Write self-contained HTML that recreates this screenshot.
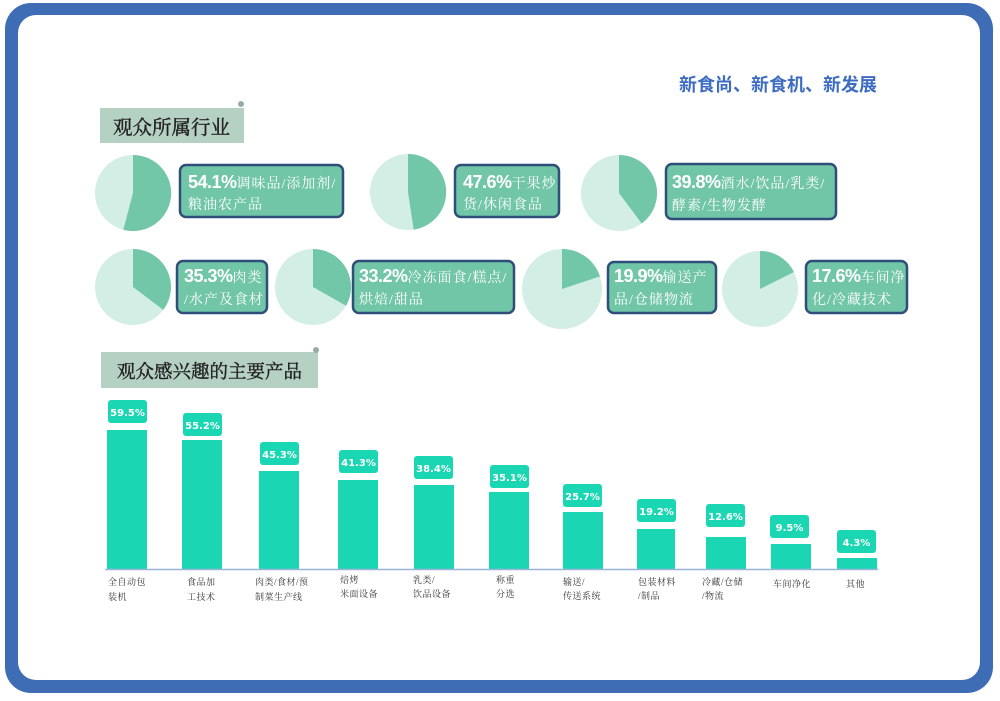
<!DOCTYPE html>
<html><head><meta charset="utf-8"><style>
body{margin:0;width:1000px;height:696px;background:#fff;overflow:hidden}
.s{font-family:"Liberation Serif","Noto Serif CJK SC",serif}
.b{font-family:"DejaVu Sans",sans-serif}
.p{font-family:"Liberation Sans",sans-serif;font-weight:bold;letter-spacing:-0.5px}
</style></head><body>
<svg width="1000" height="696" viewBox="0 0 1000 696" xmlns="http://www.w3.org/2000/svg">
<rect x="5" y="3" width="988" height="690" rx="26" fill="#3f6db5"/>
<rect x="18" y="15" width="962" height="665" rx="18" fill="#fff"/>
<text x="877" y="91" text-anchor="end" font-size="18" font-weight="bold" fill="#3d6cc0" style="font-family:'Liberation Sans','Noto Sans CJK SC',sans-serif">新食尚、新食机、新发展</text>
<rect x="100" y="108" width="144" height="35" fill="#b5d1c4"/>
<circle cx="241" cy="104" r="3" fill="#9aa"/>
<text class="s" x="113" y="134" font-size="19.5" stroke="#222" stroke-width="0.4" fill="#222">观众所属行业</text>
<rect x="101" y="352" width="217" height="36" fill="#b5d1c4"/>
<circle cx="316" cy="350" r="3" fill="#9aa"/>
<text class="s" x="117" y="378" font-size="18.5" stroke="#222" stroke-width="0.4" fill="#222">观众感兴趣的主要产品</text>
<g>
<circle cx="133" cy="193" r="38" fill="#d3eee5"/><path d="M133 193 L133 155 A38 38 0 1 1 123.3 229.7Z" fill="#72c7a8"/>
<circle cx="408" cy="192" r="38" fill="#d3eee5"/><path d="M408 192 L408 154 A38 38 0 0 1 413.7 229.6Z" fill="#72c7a8"/>
<circle cx="619" cy="193" r="38" fill="#d3eee5"/><path d="M619 193 L619 155 A38 38 0 0 1 641.7 223.5Z" fill="#72c7a8"/>
<circle cx="133" cy="287" r="38" fill="#d3eee5"/><path d="M133 287 L133 249 A38 38 0 0 1 163.3 309.9Z" fill="#72c7a8"/>
<circle cx="313" cy="287" r="38" fill="#d3eee5"/><path d="M313 287 L313 249 A38 38 0 0 1 346.1 305.7Z" fill="#72c7a8"/>
<circle cx="562" cy="289" r="40" fill="#d3eee5"/><path d="M562 289 L562 249 A40 40 0 0 1 600 276.4Z" fill="#72c7a8"/>
<circle cx="760" cy="289" r="38" fill="#d3eee5"/><path d="M760 289 L760 251 A38 38 0 0 1 794 272Z" fill="#72c7a8"/>
</g>
<g fill="#72c6a8" stroke="#2f4f7a" stroke-width="2.5">
<rect x="180" y="165" width="163" height="52" rx="6"/>
<rect x="455" y="165" width="104" height="52" rx="6"/>
<rect x="666" y="164" width="170" height="55" rx="6"/>
<rect x="177" y="261" width="90" height="52" rx="6"/>
<rect x="353" y="261" width="161" height="52" rx="6"/>
<rect x="608" y="262" width="108" height="51" rx="6"/>
<rect x="806" y="261" width="101" height="52" rx="6"/>
</g>
<g font-size="14" fill="#fff" letter-spacing="1">
<text class="s" x="188" y="188"><tspan class="p" font-size="18">54.1%</tspan>调味品/添加剂/</text>
<text class="s" x="188" y="209">粮油农产品</text>
<text class="s" x="463" y="188"><tspan class="p" font-size="18">47.6%</tspan>干果炒</text>
<text class="s" x="463" y="209">货/休闲食品</text>
<text class="s" x="672" y="188"><tspan class="p" font-size="18">39.8%</tspan>酒水/饮品/乳类/</text>
<text class="s" x="672" y="210">酵素/生物发酵</text>
<text class="s" x="184" y="282"><tspan class="p" font-size="18">35.3%</tspan>肉类</text>
<text class="s" x="184" y="304">/水产及食材</text>
<text class="s" x="359" y="282"><tspan class="p" font-size="18">33.2%</tspan>冷冻面食/糕点/</text>
<text class="s" x="359" y="304">烘焙/甜品</text>
<text class="s" x="614" y="282"><tspan class="p" font-size="18">19.9%</tspan>输送产</text>
<text class="s" x="614" y="304">品/仓储物流</text>
<text class="s" x="812" y="282"><tspan class="p" font-size="18">17.6%</tspan>车间净</text>
<text class="s" x="812" y="304">化/冷藏技术</text>
</g>
<g fill="#1ad6b2">
<rect x="107" y="430" width="40" height="140"/>
<rect x="182" y="440" width="40" height="130"/>
<rect x="259" y="471" width="40" height="99"/>
<rect x="338" y="480" width="40" height="90"/>
<rect x="414" y="485" width="40" height="85"/>
<rect x="489" y="492" width="40" height="78"/>
<rect x="563" y="512" width="40" height="58"/>
<rect x="637" y="529" width="38" height="41"/>
<rect x="706" y="537" width="40" height="33"/>
<rect x="771" y="544" width="40" height="26"/>
<rect x="837" y="558" width="40" height="12"/>
<rect x="108" y="400" width="39" height="23" rx="3"/>
<rect x="183" y="413" width="39" height="23" rx="3"/>
<rect x="260" y="442" width="39" height="23" rx="3"/>
<rect x="339" y="450" width="39" height="23" rx="3"/>
<rect x="414" y="456" width="39" height="23" rx="3"/>
<rect x="490" y="465" width="39" height="23" rx="3"/>
<rect x="563" y="484" width="39" height="23" rx="3"/>
<rect x="637" y="499" width="39" height="23" rx="3"/>
<rect x="706" y="504" width="39" height="23" rx="3"/>
<rect x="770" y="515" width="39" height="23" rx="3"/>
<rect x="837" y="530" width="39" height="23" rx="3"/>
</g>
<line x1="105" y1="569.5" x2="878" y2="569.5" stroke="#9ab3d9" stroke-width="1.5"/>
<g font-size="10" font-weight="bold" fill="#fff" text-anchor="middle">
<text class="b" x="127.5" y="416">59.5%</text><text class="b" x="202.5" y="429">55.2%</text><text class="b" x="279.5" y="458">45.3%</text>
<text class="b" x="358.5" y="466">41.3%</text><text class="b" x="433.5" y="472">38.4%</text><text class="b" x="509.5" y="481">35.1%</text>
<text class="b" x="582.5" y="500">25.7%</text><text class="b" x="656.5" y="515">19.2%</text><text class="b" x="725.5" y="520">12.6%</text>
<text class="b" x="789.5" y="531">9.5%</text><text class="b" x="856.5" y="546">4.3%</text>
</g>
<g font-size="9" fill="#333" letter-spacing="0.5">
<text class="s" x="108" y="585">全自动包</text><text class="s" x="108" y="600">装机</text>
<text class="s" x="187" y="585">食品加</text><text class="s" x="187" y="600">工技术</text>
<text class="s" x="255" y="585">肉类/食材/预</text><text class="s" x="255" y="600">制菜生产线</text>
<text class="s" x="340" y="583">焙烤</text><text class="s" x="340" y="597">米面设备</text>
<text class="s" x="413" y="583">乳类/</text><text class="s" x="413" y="597">饮品设备</text>
<text class="s" x="496" y="583">称重</text><text class="s" x="496" y="597">分选</text>
<text class="s" x="563" y="585">输送/</text><text class="s" x="563" y="599">传送系统</text>
<text class="s" x="638" y="585">包装材料</text><text class="s" x="638" y="599">/制品</text>
<text class="s" x="702" y="585">冷藏/仓储</text><text class="s" x="702" y="599">/物流</text>
<text class="s" x="773" y="587">车间净化</text>
<text class="s" x="846" y="587">其他</text>
</g>
</svg>
</body></html>
